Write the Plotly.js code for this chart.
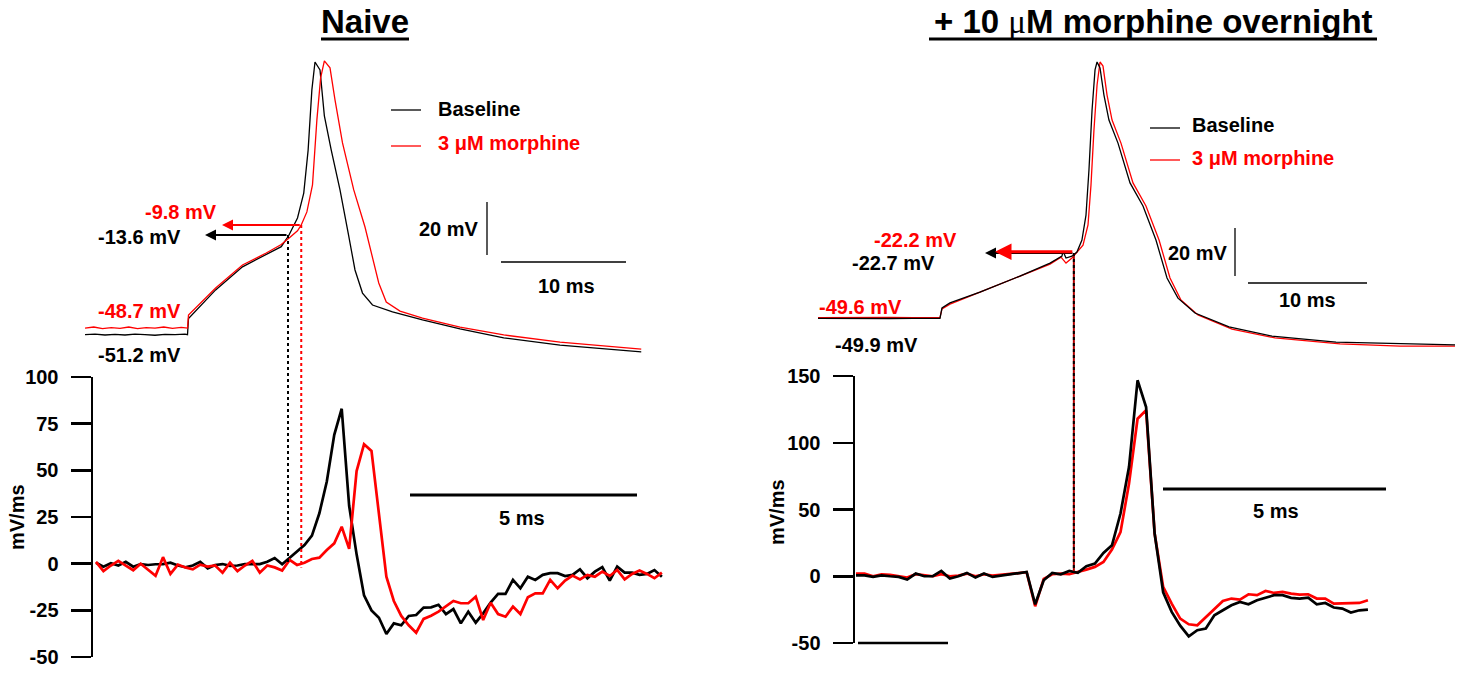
<!DOCTYPE html>
<html><head><meta charset="utf-8">
<script src="https://cdn.plot.ly/plotly-3.0.1.min.js"></script>
<style>html,body{margin:0;padding:0;background:#fff}#chart{width:1464px;height:674px}</style>
</head><body><div id="chart"></div>
<script>
// ===== DATA =====
// Naive: action potential (time ms, membrane potential mV)
const naiveBaseT = [0,0.8,1.6,2.4,3.2,4.0,4.8,5.6,6.4,7.2,8.0,8.2,8.28,10.45,12.6,14.5,15.7,16.3,17.0,17.5,17.85,18.15,18.4,18.8,19.15,19.7,20.4,21.1,21.6,22.2,23.0,24.6,27.0,30.0,33.5,38.0,44.5];
const naiveBaseV = [-51.2,-51.0,-51.3,-51.1,-51.3,-51.0,-51.2,-51.4,-51.1,-51.2,-51.0,-51.2,-45.1,-34.3,-25.6,-21.1,-18.0,-13.8,-7.2,2.2,18.4,41.1,51.6,48.6,31.3,18.4,3.4,-14.0,-26.8,-35.5,-40.0,-42.6,-45.6,-49.0,-52.4,-55.1,-57.7];
const naiveMorT = [0,0.7,1.4,2.1,2.8,3.5,4.2,4.9,5.6,6.3,7.0,7.7,8.2,8.28,10.45,12.6,14.5,15.7,16.4,17.0,17.3,17.75,18.2,18.55,18.85,19.15,19.6,20.0,20.6,21.5,22.4,23.0,23.5,24.1,25.2,27.0,30.0,33.5,38.0,44.5];
const naiveMorV = [-48.7,-48.3,-48.9,-48.5,-48.8,-48.3,-48.9,-48.5,-48.7,-48.3,-48.8,-48.4,-48.7,-43.8,-33.6,-24.9,-20.4,-17.2,-14.5,-12.0,-9.8,-4.9,5.3,29.8,45.6,52.0,49.4,37.3,21.1,3.4,-10.6,-21.9,-31.7,-38.9,-42.3,-44.9,-48.3,-51.3,-54.0,-56.6];
// Naive: dV/dt (mV/ms), uniformly sampled
const naiveDvBase = [0.5,-1.6,0.2,-1,1,-1.6,-0.2,-0.7,-0.3,-0.2,0.5,-1,-1.9,-1,1,-2.5,-0.7,-0.2,-1.2,-1,-0.2,-0.3,-0.2,1,3,-0.3,3,6.8,10,15,27,44,69,83,31,5,-17,-25,-29,-37.7,-32,-33,-28,-27.5,-23.5,-23.4,-22,-27,-24.3,-32,-25.7,-31.6,-26.6,-20.9,-16.2,-16.2,-8.7,-13.2,-7,-8.7,-6,-5.1,-5.1,-6.6,-6,-3,-7.8,-4.3,-1.9,-9.1,-1.6,-4.8,-4.8,-6,-5.5,-3.4,-7];
const naiveDvMor = [1,-4,-1,1.5,-1,-3.5,0,-3,-6.5,3.5,-5.5,-0.5,-2,-3,-0.5,-1.6,-1,-4.8,0.5,-4,-1,1.5,-4.8,-1,-2,-3.7,2,-0.7,0.5,2.5,3.2,7.3,10.9,19.8,7.9,49.6,64,60.4,27.9,-7,-20,-28,-33,-37,-29.6,-27.9,-25.7,-23,-20,-21.2,-21.2,-17.7,-30.2,-20.9,-27,-28.4,-23,-27,-18,-15.9,-15.9,-8.7,-13.2,-9.1,-6.4,-8.4,-6,-7,-4.3,-6.6,-3.4,-8.4,-5.5,-3.7,-5.5,-7.8,-4.8];
const naiveDt = 0.164;            // ms per dV/dt sample
const naiveThrT = [16.24, 17.3];  // threshold time [baseline, morphine]
const naiveThrV = [-13.6, -9.8];  // threshold mV
const naiveRest = [-51.2, -48.7]; // resting mV

// Overnight morphine: action potential
const ovnBaseT = [0,2,4,6,8,10.25,10.42,11.09,13.61,16.97,19.5,20.5,20.59,20.84,21.34,21.76,22.18,22.52,22.77,23.03,23.28,23.45,23.7,24.03,24.45,25.21,26.22,27.31,28.4,29.33,30.25,31.68,34.54,38.15,43.53,48.91,53.53];
const ovnBaseV = [-49.9,-50.0,-49.8,-50.0,-49.9,-49.9,-45.6,-43.5,-39.0,-32.3,-26.9,-24.0,-21.9,-24.8,-24.0,-22.3,-17.3,-6.9,11.9,36.9,53.6,56.9,54.4,43.1,32.7,23.1,6.5,-3.1,-17.3,-33.1,-41.5,-47.7,-53.5,-57.3,-59.8,-60.6,-61.0];
const ovnMorT = [0,2,4,6,8,10.25,10.42,11.09,13.61,16.97,19.5,20.42,20.84,21.34,21.76,22.27,22.69,22.94,23.19,23.45,23.7,23.95,24.29,24.71,25.46,26.47,27.56,28.66,29.58,30.5,31.93,34.79,38.4,43.87,48.91,53.53];
const ovnMorV = [-49.6,-49.5,-49.7,-49.5,-49.6,-49.6,-46.0,-44.0,-39.0,-32.3,-27.3,-24.4,-26.9,-24.8,-22.3,-19.4,-11.0,5.6,28.6,47.3,56.9,55.2,43.1,32.7,23.1,6.5,-3.1,-17.3,-33.1,-42.3,-48.5,-54.4,-58.1,-60.6,-61.5,-61.5];
// Overnight morphine: dV/dt
const ovnDvBase = [0.7,0.7,-0.5,0.7,0,-0.5,-2.5,2,0,0,4,-1.7,0,2.5,-1,2,-0.5,0.3,1.5,2,3.2,-21,-3,2.5,1.5,4,2.5,7.5,9.5,17.5,23.2,47,82,146.8,126.8,32,-12,-26.7,-37,-45,-40.4,-39.2,-29.2,-25.5,-21.7,-19.2,-21,-18,-16.2,-14.2,-14.2,-16.2,-16.7,-16,-21,-20,-23.4,-24.2,-27.2,-25.5,-25];
const ovnDvMor = [2,2,0,1.5,1,0,-1,1.5,0.5,0,1.5,0,0.5,2,0,1.5,0.5,1,1.5,2,3,-22.5,-2,1.5,2,1.5,3,5,7,10.7,20,33,69.4,118,124.3,32,-8,-20.5,-31.7,-36,-36.7,-30.5,-24.2,-18.5,-16.7,-17.5,-13.5,-14.2,-11,-12.5,-11.7,-13,-13.7,-13.5,-16.7,-16.7,-20.5,-20.5,-20,-20,-18];
const ovnDt = 0.1913;
const ovnThrT = [21.5, 21.5];
const ovnThrV = [-22.7, -22.2];
const ovnRest = [-49.9, -49.6];

const seriesNames = ['Baseline', '3 \u03bcM morphine'];
const panelTitles = ['Naive', '+ 10 <span style="font-family:Liberation Serif;font-weight:normal">\u03bc</span>M morphine overnight'];
const dvTicks = [[-50,-25,0,25,50,75,100], [-50,0,50,100,150]];

// ===== LAYOUT HELPERS =====
const W = 1464, H = 674;
const FONT = 'Arial, "Liberation Sans", Helvetica, sans-serif';
const RED = '#ff0000', BLK = '#000000';
// axis frames: pixel extent + data range (y: p0 = bottom px, p1 = top px)
const F = {
  x:  {p0: 85,  p1: 645,  r: [0, 44.8]},
  y:  {p0: 370, p1: 40,   r: [-64.5, 59.9]},
  x2: {p0: 93,  p1: 670,  r: [-0.066, 12.643]},
  y2: {p0: 657, p1: 377,  r: [-50, 100]},
  x3: {p0: 818, p1: 1460, r: [0, 53.95]},
  y3: {p0: 370, p1: 40,   r: [-71.45, 66.06]},
  x4: {p0: 855, p1: 1445, r: [-0.0224, 13.206]},
  y4: {p0: 643, p1: 376,  r: [-50, 150]}
};
const xdom = f => [f.p0 / W, f.p1 / W];
const ydom = f => [1 - f.p0 / H, 1 - f.p1 / H];
const toPx = (f, v) => f.p0 + (v - f.r[0]) / (f.r[1] - f.r[0]) * (f.p1 - f.p0);
const fromPx = (f, p) => f.r[0] + (p - f.p0) / (f.p1 - f.p0) * (f.r[1] - f.r[0]);
const PX = px => px / W, PY = py => 1 - py / H;

function apTrace(x, y, color, xa, ya) {
  return {x, y, xaxis: xa, yaxis: ya, type: 'scatter', mode: 'lines',
          line: {color, width: 1.3}, hoverinfo: 'skip', showlegend: false};
}
function dvTrace(y, dt, color, xa, ya) {
  return {y, x0: 0, dx: dt, xaxis: xa, yaxis: ya, type: 'scatter', mode: 'lines',
          line: {color, width: 2.7}, hoverinfo: 'skip', showlegend: false};
}

const data = [
  apTrace(naiveBaseT, naiveBaseV, BLK, 'x', 'y'),
  apTrace(naiveMorT, naiveMorV, RED, 'x', 'y'),
  dvTrace(naiveDvBase, naiveDt, BLK, 'x2', 'y2'),
  dvTrace(naiveDvMor, naiveDt, RED, 'x2', 'y2'),
  apTrace(ovnMorT, ovnMorV, RED, 'x3', 'y3'),
  apTrace(ovnBaseT, ovnBaseV, BLK, 'x3', 'y3'),
  dvTrace(ovnDvMor, ovnDt, RED, 'x4', 'y4'),
  dvTrace(ovnDvBase, ovnDt, BLK, 'x4', 'y4')
];

const hidden = {visible: false, fixedrange: true};
function dvAxis(f, ticks, anchor) {
  return {domain: ydom(f), range: f.r, anchor, showgrid: false, zeroline: false,
          showline: true, linecolor: BLK, linewidth: 2.5,
          ticks: 'outside', ticklen: 20, tickwidth: 2.5, tickcolor: BLK,
          tickvals: ticks, ticktext: ticks.map(String), ticklabelstandoff: 8,
          tickfont: {family: FONT, size: 20, color: BLK, weight: 'bold'}, fixedrange: true};
}

const shapes = [];
const annotations = [];
function line(xref, yref, x0, y0, x1, y1, color, width, dash) {
  shapes.push({type: 'line', xref, yref, x0, y0, x1, y1, layer: 'above',
               line: {color, width, dash: dash || 'solid'}});
}
function text(txt, px, py, color, size, anchor, angle) {
  annotations.push({text: txt, xref: 'paper', yref: 'paper', x: PX(px), y: PY(py),
    xanchor: anchor || 'center', yanchor: 'middle', showarrow: false, textangle: angle || 0,
    font: {family: FONT, size: size || 20, color: color || BLK, weight: 'bold'}});
}
function arrow(xr, yr, tailT, headT, v, color, width) {
  annotations.push({text: '', xref: xr, yref: yr, axref: xr, ayref: yr,
    x: headT, y: v, ax: tailT, ay: v, showarrow: true, arrowhead: 2, arrowsize: 1.1,
    arrowwidth: width, arrowcolor: color, standoff: 0, startstandoff: 0});
}

// ---- titles (with heavy underline)
text(panelTitles[0], 365, 21, BLK, 33);
text(panelTitles[1], 1153, 21, BLK, 33);
line('paper', 'paper', PX(321), PY(39), PX(409), PY(39), BLK, 3);
line('paper', 'paper', PX(929), PY(39), PX(1377), PY(39), BLK, 3);

// ---- naive AP annotations
arrow('x', 'y', naiveThrT[1], fromPx(F.x, 222), naiveThrV[1], RED, 2);
arrow('x', 'y', naiveThrT[0], fromPx(F.x, 205), naiveThrV[0], BLK, 2);
line('x', 'paper', naiveThrT[0], PY(toPx(F.y, naiveThrV[0])), naiveThrT[0], PY(toPx(F.y2, 0)), BLK, 2, 'dot');
line('x', 'paper', naiveThrT[1], PY(toPx(F.y, naiveThrV[1])), naiveThrT[1], PY(toPx(F.y2, -2)), RED, 2, 'dot');
text(naiveThrV[1].toFixed(1) + ' mV', 181, 212, RED);
text(naiveThrV[0].toFixed(1) + ' mV', 139, 237, BLK);
text(naiveRest[1].toFixed(1) + ' mV', 139, 311, RED);
text(naiveRest[0].toFixed(1) + ' mV', 139, 355, BLK);
// legend
line('paper', 'paper', PX(391), PY(110), PX(421), PY(110), BLK, 1.3);
line('paper', 'paper', PX(391), PY(146), PX(421), PY(146), RED, 1.3);
text(seriesNames[0], 436, 109, BLK, 20, 'left');
text(seriesNames[1], 436, 143, RED, 20, 'left');
// scale bars (20 mV, 10 ms)
{
  const xb = fromPx(F.x, 487), v0 = fromPx(F.y, 255);
  line('x', 'y', xb, v0, xb, v0 + 20, BLK, 1.3);
  const t0 = fromPx(F.x, 501), vb = fromPx(F.y, 262);
  line('x', 'y', t0, vb, t0 + 10, vb, BLK, 1.3);
  text('20 mV', 449, 229); text('10 ms', 566, 286);
}
// dV/dt 5 ms bar
{
  const t0 = fromPx(F.x2, 410), vb = fromPx(F.y2, 495);
  line('x2', 'y2', t0, vb, t0 + 5, vb, BLK, 3);
  text('5 ms', 522, 518);
  text('mV/ms', 17, 517, BLK, 20, 'center', -90);
}

// ---- overnight AP annotations
arrow('x3', 'y3', ovnThrT[0], fromPx(F.x3, 985), ovnThrV[0], BLK, 2);
arrow('x3', 'y3', ovnThrT[1], fromPx(F.x3, 995), ovnThrV[1], RED, 3);
line('x3', 'paper', ovnThrT[0], PY(toPx(F.y3, ovnThrV[0])), ovnThrT[0], PY(toPx(F.y4, 4)), '#b00000', 2);
line('x3', 'paper', ovnThrT[0], PY(toPx(F.y3, ovnThrV[0])), ovnThrT[0], PY(toPx(F.y4, 4)), BLK, 2, 'dot');
text(ovnThrV[1].toFixed(1) + ' mV', 915, 240, RED);
text(ovnThrV[0].toFixed(1) + ' mV', 894, 263, BLK);
text(ovnRest[1].toFixed(1) + ' mV', 860, 307, RED);
text(ovnRest[0].toFixed(1) + ' mV', 876, 345, BLK);
line('paper', 'paper', PX(1150), PY(128), PX(1180), PY(128), BLK, 1.3);
line('paper', 'paper', PX(1150), PY(160), PX(1180), PY(160), RED, 1.3);
text(seriesNames[0], 1190, 125, BLK, 20, 'left');
text(seriesNames[1], 1190, 158, RED, 20, 'left');
{
  const xb = fromPx(F.x3, 1235), v0 = fromPx(F.y3, 276);
  line('x3', 'y3', xb, v0, xb, v0 + 20, BLK, 1.3);
  const t0 = fromPx(F.x3, 1248), vb = fromPx(F.y3, 283);
  line('x3', 'y3', t0, vb, t0 + 10, vb, BLK, 1.3);
  text('20 mV', 1198, 253); text('10 ms', 1307, 300);
}
{
  const t0 = fromPx(F.x4, 1163), vb = fromPx(F.y4, 489);
  line('x4', 'y4', t0, vb, t0 + 5, vb, BLK, 3);
  text('5 ms', 1276, 511);
  text('mV/ms', 777, 512, BLK, 20, 'center', -90);
  // short baseline segment at -50 (paper y so it is not clipped)
  line('paper', 'paper', PX(858), PY(toPx(F.y4, -50)), PX(948), PY(toPx(F.y4, -50)), BLK, 2.5);
}

const layout = {
  width: W, height: H, margin: {l: 0, r: 0, t: 0, b: 0},
  paper_bgcolor: '#fff', plot_bgcolor: 'rgba(0,0,0,0)', showlegend: false,
  font: {family: FONT, color: BLK},
  xaxis:  Object.assign({domain: xdom(F.x),  range: F.x.r,  anchor: 'y'}, hidden),
  yaxis:  Object.assign({domain: ydom(F.y),  range: F.y.r,  anchor: 'x'}, hidden),
  xaxis2: Object.assign({domain: xdom(F.x2), range: F.x2.r, anchor: 'y2'}, hidden),
  yaxis2: dvAxis(F.y2, dvTicks[0], 'x2'),
  xaxis3: Object.assign({domain: xdom(F.x3), range: F.x3.r, anchor: 'y3'}, hidden),
  yaxis3: Object.assign({domain: ydom(F.y3), range: F.y3.r, anchor: 'x3'}, hidden),
  xaxis4: Object.assign({domain: xdom(F.x4), range: F.x4.r, anchor: 'y4'}, hidden),
  yaxis4: dvAxis(F.y4, dvTicks[1], 'x4'),
  shapes, annotations
};

Plotly.newPlot('chart', data, layout, {displayModeBar: false, staticPlot: true});
</script></body></html>
